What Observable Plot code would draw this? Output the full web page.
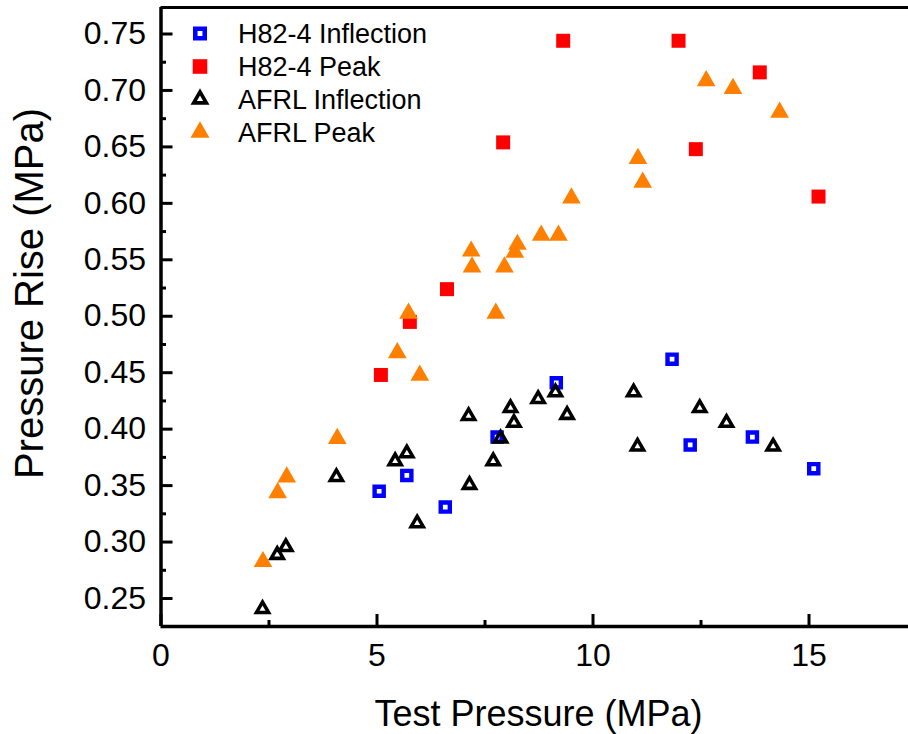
<!DOCTYPE html>
<html><head><meta charset="utf-8">
<script src="https://cdn.jsdelivr.net/npm/d3@7"></script>
<script src="https://cdn.jsdelivr.net/npm/@observablehq/plot@0.6"></script>
<style>html,body{margin:0;padding:0;background:#fff;} #chart svg{display:block;}</style>
</head><body><div id="chart"></div>
<script>
// ---- data ----
const h82InfX  = [5.05, 5.69, 6.58, 7.78, 9.15, 11.83, 12.25, 13.69, 15.11];
const h82InfY  = [0.345, 0.359, 0.331, 0.393, 0.441, 0.462, 0.386, 0.393, 0.365];
const h82PeakX = [5.09, 5.76, 6.62, 7.92, 9.31, 11.98, 12.38, 13.86, 15.22];
const h82PeakY = [0.448, 0.495, 0.524, 0.654, 0.744, 0.744, 0.648, 0.716, 0.606];
const afrlInfX = [2.35, 2.69, 2.89, 4.06, 5.42, 5.69, 5.93, 7.12, 7.14, 7.69, 7.86, 8.09, 8.17, 8.73, 9.13, 9.40, 10.94, 11.03, 12.47, 13.09, 14.17];
const afrlInfY = [0.243, 0.291, 0.298, 0.360, 0.374, 0.381, 0.319, 0.414, 0.353, 0.374, 0.394, 0.421, 0.408, 0.429, 0.435, 0.415, 0.435, 0.387, 0.421, 0.408, 0.387];
const afrlPeakX = [2.36, 2.70, 2.91, 4.08, 5.47, 5.73, 5.99, 7.18, 7.20, 7.75, 7.95, 8.19, 8.25, 8.80, 9.20, 9.50, 11.04, 11.15, 12.62, 13.24, 14.32];
const afrlPeakY = [0.285, 0.346, 0.360, 0.394, 0.470, 0.505, 0.450, 0.560, 0.546, 0.505, 0.546, 0.559, 0.566, 0.574, 0.574, 0.607, 0.642, 0.621, 0.711, 0.704, 0.683];

const xMajor = [0, 5, 10, 15];
const xMinor = [2.5, 7.5, 12.5];
const yMajor = [0.25, 0.30, 0.35, 0.40, 0.45, 0.50, 0.55, 0.60, 0.65, 0.70, 0.75];
const yMinor = [0.275, 0.325, 0.375, 0.425, 0.475, 0.525, 0.575, 0.625, 0.675, 0.725];
const legendLabels = ["H82-4 Inflection", "H82-4 Peak", "AFRL Inflection", "AFRL Peak"];
const xTitle = "Test Pressure (MPa)";
const yTitle = "Pressure Rise (MPa)";

// ---- layout ----
const W = 908, H = 734, mL = 160.5, mR = 0, mT = 7, mB = 108;
const plotW = W - mL - mR, plotH = H - mT - mB;
const xDomain = [0, 17.303];
const yDomain = [0.2252, 0.77347];
const font = "'Liberation Sans', Arial, Helvetica, sans-serif";

// custom symbols (half-width = r); k = inner hole ratio (0 = solid)
function square(k) {
  return {draw(ctx, size) {
    const s = Math.sqrt(size / Math.PI);
    ctx.moveTo(-s, -s); ctx.lineTo(s, -s); ctx.lineTo(s, s); ctx.lineTo(-s, s); ctx.closePath();
    if (k > 0) { const t = s * k; ctx.moveTo(-t, -t); ctx.lineTo(-t, t); ctx.lineTo(t, t); ctx.lineTo(t, -t); ctx.closePath(); }
  }};
}
function triangle(k) {
  return {draw(ctx, size) {
    const s = Math.sqrt(size / Math.PI);
    const ro = s / Math.sqrt(3);          // inradius of outer
    const c = ro / 2;                     // shift: centre the bounding box
    ctx.moveTo(0, -2 * ro + c); ctx.lineTo(s, ro + c); ctx.lineTo(-s, ro + c); ctx.closePath();
    if (k > 0) { const ri = ro * k, si = s * k; ctx.moveTo(0, -2 * ri + c); ctx.lineTo(-si, ri + c); ctx.lineTo(si, ri + c); ctx.closePath(); }
  }};
}
const sqOpen = square(0.35), sqFill = square(0), triOpen = triangle(0.33), triFill = triangle(0);

const styles = [
  {symbol: sqOpen, r: 6.75, fill: "#0000FF", stroke: "none"},
  {symbol: sqFill, r: 7, fill: "#FF0000", stroke: "none"},
  {symbol: triOpen, r: 9.15, fill: "#000000", stroke: "none"},
  {symbol: triFill, r: 9.35, fill: "#FF8000", stroke: "none"}
];
const legendR = [7, 7.3, 9.5, 9.5];
const series = [[h82InfX, h82InfY], [h82PeakX, h82PeakY], [afrlInfX, afrlInfY], [afrlPeakX, afrlPeakY]];

const marks = [];
// frame lines (left, bottom, top)
marks.push(Plot.ruleX([xDomain[0]], {stroke: "black", strokeWidth: 3.5}));
marks.push(Plot.ruleY([yDomain[0]], {stroke: "black", strokeWidth: 3.3}));
marks.push(Plot.ruleY([yDomain[1]], {stroke: "black", strokeWidth: 3}));
// inward ticks
marks.push(Plot.ruleX(xMajor, {insetTop: plotH - 12, stroke: "black", strokeWidth: 3}));
marks.push(Plot.ruleX(xMinor, {insetTop: plotH - 6, stroke: "black", strokeWidth: 3}));
marks.push(Plot.ruleY(yMajor, {insetRight: plotW - 12, stroke: "black", strokeWidth: 3}));
marks.push(Plot.ruleY(yMinor, {insetRight: plotW - 5.5, stroke: "black", strokeWidth: 3}));
// tick labels
marks.push(Plot.axisX(xMajor, {tickSize: 0, tickPadding: 17, fontSize: 32, label: null, tickFormat: d => String(d)}));
marks.push(Plot.axisY(yMajor, {tickSize: 0, tickPadding: 15, fontSize: 32, label: null, tickFormat: d => d.toFixed(2)}));
// axis titles
marks.push(Plot.text([xTitle], {frameAnchor: "bottom", text: d => d, fontSize: 36, dx: 3.75, dy: 87.5, textAnchor: "middle", lineAnchor: "middle"}));
marks.push(Plot.text([yTitle], {frameAnchor: "left", text: d => d, fontSize: 40, rotate: -90, dx: -131.3, dy: -23.5, textAnchor: "middle", lineAnchor: "middle"}));
// data
series.forEach(([xs, ys], i) => {
  marks.push(Plot.dot(xs, {x: xs, y: ys, ...styles[i]}));
});
// legend
legendLabels.forEach((lab, i) => {
  const row = 33 + 33 * i;
  const off = i >= 2 ? -3 : 0;
  marks.push(Plot.dot([lab], {frameAnchor: "top-left", dx: 39, dy: row - mT + off, ...styles[i], r: legendR[i]}));
  marks.push(Plot.text([lab], {frameAnchor: "top-left", text: d => d, dx: 77, dy: row - mT + 1, fontSize: 27, textAnchor: "start", lineAnchor: "middle"}));
});

const chart = Plot.plot({
  width: W, height: H,
  marginLeft: mL, marginRight: mR, marginTop: mT, marginBottom: mB,
  x: {domain: xDomain},
  y: {domain: yDomain},
  style: {fontFamily: font, background: "white", color: "black", overflow: "visible"},
  marks
});
document.getElementById("chart").appendChild(chart);
</script></body></html>
